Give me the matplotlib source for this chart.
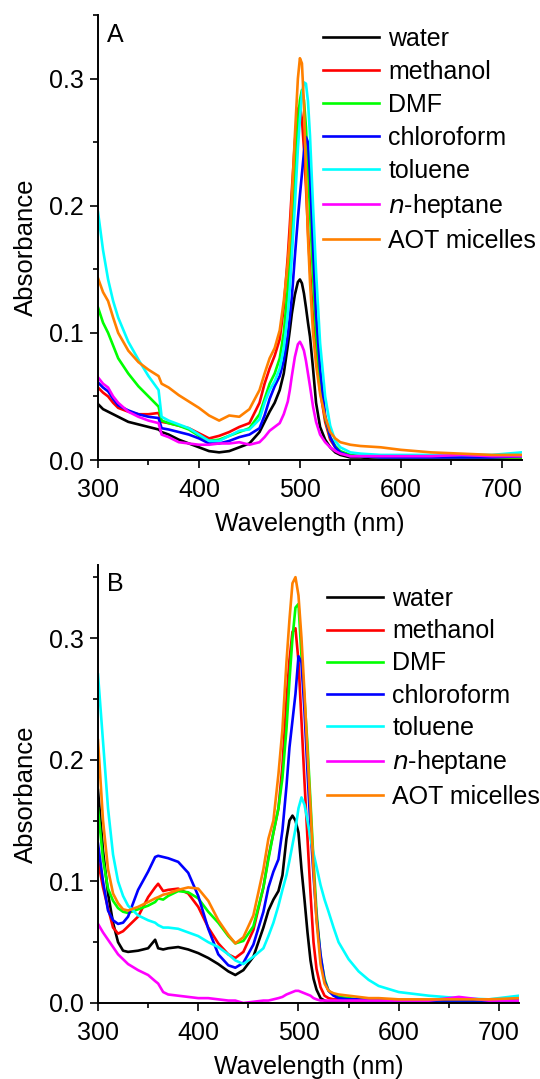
import matplotlib
matplotlib.use("Agg")
import matplotlib.pyplot as plt
from matplotlib.ticker import MultipleLocator

plt.rcParams['font.family'] = ['Liberation Sans', 'DejaVu Sans']
plt.rcParams['font.size'] = 18

labels = ['water', 'methanol', 'DMF', 'chloroform', 'toluene', '$n$-heptane', 'AOT micelles']
colors = ['#000000', '#ff0000', '#00ff00', '#0000ff', '#00ffff', '#ff00ff', '#ff8000']

# ---- panel A ----
wl_a = [300, 305, 310, 315, 320, 330, 340, 350, 360, 363, 370, 380, 390, 400, 410, 420, 430, 440, 450,
        460, 465, 470, 475, 480, 484, 488, 490, 492, 495, 498, 500, 502, 504, 506, 508, 510,
        513, 516, 520, 525, 530, 535, 540, 550, 560, 580, 600, 630, 660, 690, 720]

water_a = [.044, .040, .038, .036, .034, .030, .028, .026, .024, .022, .020, .016, .013, .010, .007, .006, .007, .010, .013,
           .022, .030, .038, .045, .055, .068, .090, .102, .115, .130, .140, .142, .139, .131, .120, .108, .097,
           .072, .045, .026, .016, .010, .006, .004, .002, .002, .001, .001, .001, .001, .001, .001]
methanol_a = [.057, .053, .050, .045, .041, .038, .036, .036, .037, .030, .029, .027, .025, .021, .017, .019, .022, .026, .029,
              .045, .060, .072, .082, .095, .120, .160, .185, .212, .250, .276, .279, .268, .245, .215, .180, .150,
              .110, .082, .055, .030, .016, .010, .006, .003, .003, .002, .002, .002, .002, .002, .002]
dmf_a = [.120, .108, .100, .090, .080, .068, .058, .050, .042, .031, .029, .027, .024, .019, .015, .016, .019, .022, .025,
         .036, .048, .060, .068, .080, .100, .135, .158, .185, .225, .265, .283, .291, .283, .262, .230, .195,
         .145, .100, .062, .033, .018, .011, .007, .004, .003, .002, .002, .002, .002, .002, .002]
chloroform_a = [.061, .057, .054, .048, .043, .039, .036, .034, .033, .025, .024, .022, .020, .017, .013, .013, .015, .018, .020,
                .025, .035, .048, .058, .066, .078, .098, .112, .128, .160, .190, .208, .225, .242, .254, .250, .225,
                .168, .115, .072, .035, .018, .010, .006, .003, .003, .002, .002, .002, .002, .002, .003]
toluene_a = [.195, .165, .142, .125, .112, .093, .079, .066, .055, .034, .031, .028, .025, .020, .015, .015, .019, .023, .024,
             .032, .045, .055, .062, .072, .088, .115, .135, .160, .200, .245, .268, .288, .297, .296, .282, .255,
             .200, .148, .092, .050, .027, .015, .010, .006, .005, .004, .004, .004, .004, .004, .006]
heptane_a = [.065, .060, .057, .050, .045, .038, .034, .031, .029, .020, .018, .014, .013, .012, .012, .013, .013, .014, .012,
             .014, .018, .023, .026, .029, .036, .046, .055, .066, .081, .091, .093, .090, .086, .078, .068, .058,
             .042, .030, .020, .014, .010, .007, .005, .003, .003, .003, .003, .003, .004, .003, .003]
aot_a = [.143, .132, .125, .112, .100, .086, .077, .071, .066, .060, .057, .051, .046, .041, .035, .031, .035, .034, .040,
         .055, .068, .080, .088, .102, .125, .155, .175, .205, .255, .300, .316, .312, .280, .225, .175, .140,
         .100, .075, .052, .034, .022, .017, .014, .012, .011, .010, .008, .006, .005, .004, .004]

# ---- panel B ----
wl_b = [300, 305, 310, 315, 320, 325, 330, 340, 350, 357, 360, 365, 370, 380, 390, 400, 410, 420, 430, 437,
        445, 455, 465, 470, 475, 480, 484, 488, 491, 494, 497, 500, 503, 506, 509, 512, 515, 518,
        522, 526, 530, 535, 540, 550, 560, 570, 580, 600, 630, 660, 690, 720]

water_b = [.175, .125, .090, .066, .050, .043, .042, .043, .045, .052, .045, .044, .045, .046, .044, .041, .037, .032, .026, .023,
           .027, .038, .062, .076, .085, .092, .105, .135, .150, .154, .150, .140, .110, .085, .058, .035, .020, .011,
           .004, .002, .001, .001, .001, .001, .001, .001, .001, .001, .001, .001, .001, .001]
methanol_b = [.117, .095, .078, .062, .057, .059, .063, .071, .087, .095, .098, .092, .093, .094, .090, .079, .062, .049, .040, .037,
              .042, .060, .095, .120, .140, .160, .195, .248, .282, .305, .308, .281, .232, .182, .135, .090, .050, .028,
              .013, .006, .004, .003, .003, .002, .002, .002, .002, .002, .001, .001, .001, .001]
dmf_b = [.160, .118, .094, .084, .078, .075, .074, .077, .080, .083, .086, .085, .088, .092, .091, .086, .075, .066, .055, .049,
         .051, .063, .095, .118, .140, .160, .185, .225, .265, .300, .325, .328, .285, .250, .212, .165, .117, .075,
         .038, .020, .010, .007, .005, .004, .003, .003, .003, .002, .002, .002, .002, .002]
chloroform_b = [.131, .100, .076, .068, .065, .066, .071, .093, .108, .120, .121, .120, .119, .116, .107, .088, .061, .040, .031, .029,
                .033, .048, .075, .095, .108, .118, .142, .178, .210, .232, .254, .285, .280, .240, .190, .144, .105, .070,
                .040, .018, .010, .006, .004, .003, .003, .002, .002, .002, .002, .002, .002, .002]
toluene_b = [.270, .215, .160, .122, .100, .088, .080, .072, .068, .066, .064, .062, .062, .061, .058, .055, .050, .046, .040, .035,
             .032, .038, .045, .055, .066, .080, .093, .105, .117, .130, .143, .160, .169, .163, .150, .135, .123, .112,
             .097, .085, .075, .062, .050, .036, .026, .019, .014, .009, .006, .004, .003, .006]
heptane_b = [.065, .058, .052, .046, .040, .036, .032, .027, .023, .018, .016, .009, .007, .006, .005, .004, .004, .003, .002, .002,
             .000, .001, .002, .002, .003, .004, .005, .007, .008, .009, .010, .010, .009, .008, .007, .006, .004, .003,
             .002, .002, .002, .002, .002, .002, .002, .002, .002, .002, .002, .005, .002, .002]
aot_b = [.216, .150, .110, .090, .082, .077, .076, .079, .083, .086, .087, .089, .090, .093, .095, .094, .084, .068, .056, .049,
         .054, .072, .110, .135, .150, .188, .225, .280, .315, .345, .350, .335, .300, .255, .205, .160, .110, .068,
         .032, .016, .010, .008, .007, .006, .005, .004, .004, .003, .003, .003, .003, .004]

series_a = [water_a, methanol_a, dmf_a, chloroform_a, toluene_a, heptane_a, aot_a]
series_b = [water_b, methanol_b, dmf_b, chloroform_b, toluene_b, heptane_b, aot_b]

fig = plt.figure(figsize=(5.4, 10.79), dpi=100)
W, H = 540, 1079


def px_axes(left, top, right, bottom):
    return fig.add_axes([left / W, 1 - bottom / H, (right - left) / W, (bottom - top) / H])


def style(ax, wl, series, ymax, tag, leg_anchor, lspace, ylab_pos):
    for ys, c, lab in zip(series, colors, labels):
        ax.plot(wl, ys, color=c, lw=1.9, label=lab)
    ax.set_xlim(300, 720)
    ax.set_ylim(0, ymax)
    ax.xaxis.set_major_locator(MultipleLocator(100))
    ax.xaxis.set_minor_locator(MultipleLocator(50))
    ax.yaxis.set_major_locator(MultipleLocator(0.1))
    ax.yaxis.set_minor_locator(MultipleLocator(0.05))
    ax.yaxis.set_major_formatter(plt.FuncFormatter(lambda v, p: f'{v:.1f}'))
    for s in ['top', 'right']:
        ax.spines[s].set_visible(False)
    for s in ['left', 'bottom']:
        ax.spines[s].set_linewidth(1.4)
    ax.tick_params(which='major', direction='out', length=6, width=1.2, labelsize=18)
    ax.tick_params(axis='x', which='major', pad=7)
    ax.tick_params(axis='y', which='major', pad=4)
    ax.tick_params(which='minor', direction='out', length=3.5, width=1.2)
    ax.set_xlabel('Wavelength (nm)', fontsize=18, labelpad=7)
    ax.set_ylabel('Absorbance', fontsize=18.5)
    ax.yaxis.set_label_coords(*ylab_pos)
    ax.text(0.022, 0.983, tag, transform=ax.transAxes, ha='left', va='top', fontsize=18)
    ax.legend(loc='upper left', bbox_to_anchor=leg_anchor, bbox_transform=fig.transFigure,
              frameon=False, fontsize=18, handlelength=2.25, handletextpad=0.36,
              labelspacing=lspace, borderpad=0, borderaxespad=0)


ax_a = px_axes(98, 15, 522, 460)
style(ax_a, wl_a, series_a, 0.35, 'A', (323 / W, 1 - 27 / H), 0.36, (-0.1415, 0.479))

ax_b = px_axes(98, 565, 519, 1003)
style(ax_b, wl_b, series_b, 0.36, 'B', (327 / W, 1 - 587 / H), 0.33, (-0.1425, 0.477))

fig.savefig('out.png', dpi=100)
